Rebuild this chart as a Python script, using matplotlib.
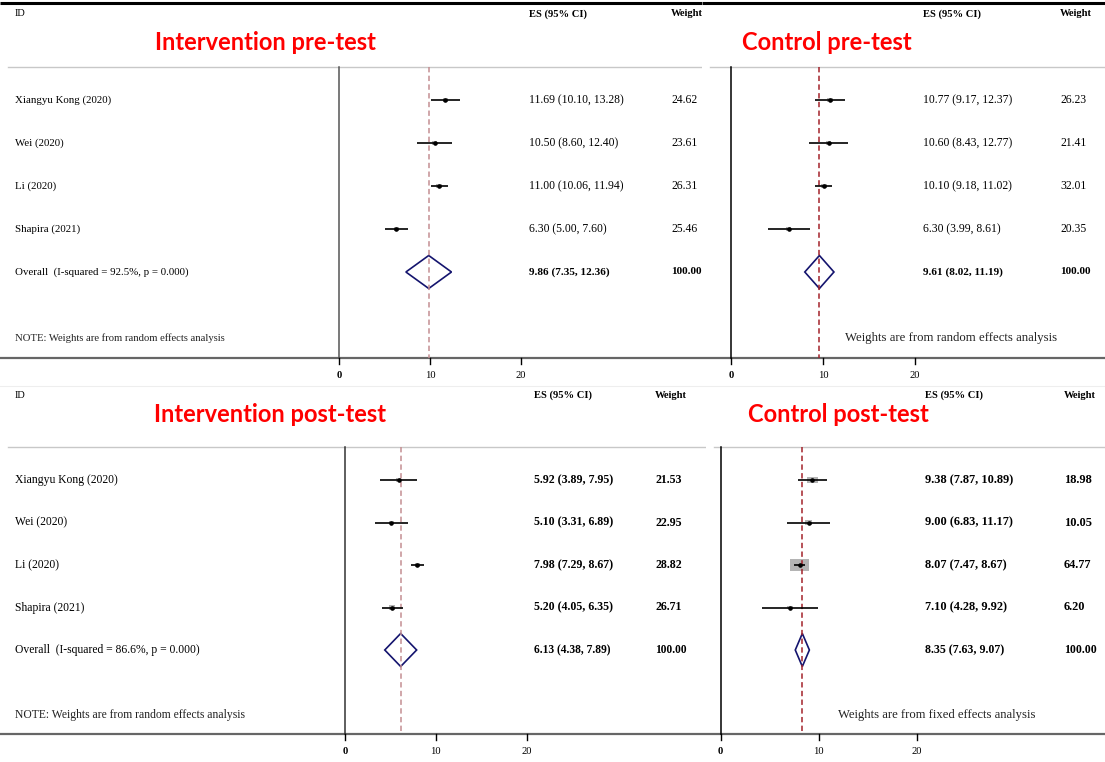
import matplotlib.pyplot as plt
from matplotlib.patches import Rectangle, Polygon
import numpy as np

W, H = 1105, 762

studies = ["Xiangyu Kong (2020)", "Wei (2020)", "Li (2020)", "Shapira (2021)"]

# Intervention pre-test
ip_es = [11.69, 10.50, 11.00, 6.30]
ip_lo = [10.10, 8.60, 10.06, 5.00]
ip_hi = [13.28, 12.40, 11.94, 7.60]
ip_w = [24.62, 23.61, 26.31, 25.46]
ip_overall = (9.86, 7.35, 12.36)
ip_i2 = 92.5

# Control pre-test
cp_es = [10.77, 10.60, 10.10, 6.30]
cp_lo = [9.17, 8.43, 9.18, 3.99]
cp_hi = [12.37, 12.77, 11.02, 8.61]
cp_w = [26.23, 21.41, 32.01, 20.35]
cp_overall = (9.61, 8.02, 11.19)

# Intervention post-test
iq_es = [5.92, 5.10, 7.98, 5.20]
iq_lo = [3.89, 3.31, 7.29, 4.05]
iq_hi = [7.95, 6.89, 8.67, 6.35]
iq_w = [21.53, 22.95, 28.82, 26.71]
iq_overall = (6.13, 4.38, 7.89)
iq_i2 = 86.6

# Control post-test
cq_es = [9.38, 9.00, 8.07, 7.10]
cq_lo = [7.87, 6.83, 7.47, 4.28]
cq_hi = [10.89, 11.17, 8.67, 9.92]
cq_w = [18.98, 10.05, 64.77, 6.20]
cq_overall = (8.35, 7.63, 9.07)

ticks = [0, 10, 20]

SERIF = "Liberation Serif"
TITLE_FONT = "Lato"

panels = [
    dict(title="Intervention pre-test", es=ip_es, lo=ip_lo, hi=ip_hi, w=ip_w, ov=ip_overall, i2=ip_i2,
         box=(0, 702, 0, 381), origin=339, scale=9.1, row0=100, gap=43, sep=67, axis=358, head=14,
         tc=(265, 43), es_x=529, w_x=671, ids=True, top=True,
         note="NOTE: Weights are from random effects analysis", note_xy=(15, 338), note_fs=7.7,
         dash="#c48e92", vcol="#555555", bold_rows=False, fs=7.8, vfs=8.4, box_k=(1.1, 0.8)),
    dict(title="Control pre-test", es=cp_es, lo=cp_lo, hi=cp_hi, w=cp_w, ov=cp_overall, i2=None,
         box=(702, W, 0, 381), origin=731, scale=9.2, row0=100, gap=43, sep=67, axis=358, head=14,
         tc=(827, 43), es_x=923, w_x=1060, ids=False, top=True,
         note="Weights are from random effects analysis", note_xy=(845, 338), note_fs=9.2,
         dash="#a3222a", vcol="#000000", bold_rows=False, fs=7.8, vfs=8.4, box_k=(1.1, 0.8)),
    dict(title="Intervention post-test", es=iq_es, lo=iq_lo, hi=iq_hi, w=iq_w, ov=iq_overall, i2=iq_i2,
         box=(0, 706, 384, H), origin=345, scale=9.08, row0=480, gap=42.5, sep=447, axis=734, head=395,
         tc=(270, 414), es_x=534, w_x=655, ids=True, top=False,
         note="NOTE: Weights are from random effects analysis", note_xy=(15, 715), note_fs=8.4,
         dash="#c48e92", vcol="#333333", bold_rows=True, fs=8.4, vfs=8.6, box_k=(1.1, 0.8)),
    dict(title="Control post-test", es=cq_es, lo=cq_lo, hi=cq_hi, w=cq_w, ov=cq_overall, i2=None,
         box=(706, W, 384, H), origin=720.5, scale=9.8, row0=480, gap=42.5, sep=447, axis=734, head=395,
         tc=(838, 414), es_x=925, w_x=1064, ids=False, top=False,
         note="Weights are from fixed effects analysis", note_xy=(838, 715), note_fs=9.05,
         dash="#a3222a", vcol="#000000", bold_rows=True, fs=8.4, vfs=8.9, box_k=(2.36, 1.37)),
]

fig = plt.figure(figsize=(W / 100, H / 100), dpi=100)
fig.patch.set_facecolor("white")

for p in panels:
    x0, x1, y0, y1 = p["box"]
    ax = fig.add_axes([x0 / W, 1 - y1 / H, (x1 - x0) / W, (y1 - y0) / H])
    xa, xb = (x0 - p["origin"]) / p["scale"], (x1 - p["origin"]) / p["scale"]
    ax.set_xlim(xa, xb)
    ax.set_ylim(y1, y0)
    ax.axis("off")

    def px(v, p=p):
        return (v - p["origin"]) / p["scale"]

    # frame lines
    if p["top"]:
        ax.plot([xa, xb], [3, 3], color="black", lw=2.2, solid_capstyle="butt")
    else:
        ax.plot([xa, xb], [y0 + 2, y0 + 2], color="#eeeeee", lw=0.8)
    ax.plot([px(x0 + 8), xb], [p["sep"], p["sep"]], color="#c8c8c8", lw=1.0)
    ax.plot([xa, xb], [p["axis"], p["axis"]], color="#666666", lw=1.6, solid_capstyle="butt")
    ax.plot([0, 0], [p["sep"], p["axis"]], color=p["vcol"], lw=1.1)

    # ticks
    for t in ticks:
        ax.plot([t, t], [p["axis"], p["axis"] + 6], color="black", lw=1.0)
        ax.text(t, p["axis"] + 17, str(t), ha="center", va="center", family=SERIF, fontsize=7.6,
                fontweight="bold" if t == 0 else "normal")

    # overall line
    ov_es, ov_lo, ov_hi = p["ov"]
    ax.plot([ov_es, ov_es], [p["sep"], p["axis"]], color=p["dash"], lw=1.1, ls=(0, (3.5, 2.2)))

    # headers
    if p["ids"]:
        ax.text(px(15), p["head"], "ID", ha="left", va="center", family=SERIF, fontsize=7.5)
    ax.text(px(p["es_x"]), p["head"], "ES (95% CI)", ha="left", va="center", family=SERIF,
            fontsize=7.6, fontweight="bold")
    ax.text(px(p["w_x"]), p["head"], "Weight", ha="left", va="center", family=SERIF,
            fontsize=7.6, fontweight="bold")
    ax.text(px(p["tc"][0]), p["tc"][1], p["title"], ha="center", va="center", family=TITLE_FONT,
            fontsize=17, fontweight="bold", color="#ff0000")

    vw = "bold" if p["bold_rows"] else "normal"
    kx, ky = p["box_k"]
    for i, name in enumerate(studies):
        y = p["row0"] + i * p["gap"]
        es, lo, hi, wt = p["es"][i], p["lo"][i], p["hi"][i], p["w"][i]
        bw = kx * np.sqrt(wt) / p["scale"]
        bh = ky * np.sqrt(wt)
        ax.add_patch(Rectangle((es - bw / 2, y - bh / 2), bw, bh, facecolor="#b4b4b4", edgecolor="none"))
        ax.plot([lo, hi], [y, y], color="black", lw=1.2, solid_capstyle="butt")
        ax.plot([es], [y], marker="o", ms=2.3, color="black")
        if p["ids"]:
            ax.text(px(15), y, name, ha="left", va="center", family=SERIF, fontsize=p["fs"])
        ax.text(px(p["es_x"]), y, f"{es:.2f} ({lo:.2f}, {hi:.2f})", ha="left", va="center",
                family=SERIF, fontsize=p["vfs"], fontweight=vw)
        ax.text(px(p["w_x"]), y, f"{wt:.2f}", ha="left", va="center",
                family=SERIF, fontsize=p["vfs"], fontweight=vw)

    # overall diamond
    y = p["row0"] + len(studies) * p["gap"]
    dh = 16.5
    ax.add_patch(Polygon([(ov_lo, y), (ov_es, y - dh), (ov_hi, y), (ov_es, y + dh)], closed=True,
                         facecolor="none", edgecolor="#14146e", lw=1.2))
    if p["ids"]:
        ax.text(px(15), y, f"Overall  (I-squared = {p['i2']:.1f}%, p = 0.000)", ha="left", va="center",
                family=SERIF, fontsize=p["fs"])
    ax.text(px(p["es_x"]), y, f"{ov_es:.2f} ({ov_lo:.2f}, {ov_hi:.2f})", ha="left", va="center",
            family=SERIF, fontsize=p["vfs"] - 0.3, fontweight="bold")
    ax.text(px(p["w_x"]), y, "100.00", ha="left", va="center", family=SERIF,
            fontsize=p["vfs"] - 0.3, fontweight="bold")

    ax.text(px(p["note_xy"][0]), p["note_xy"][1], p["note"], ha="left", va="center",
            family=SERIF, fontsize=p["note_fs"], color="#222222")

fig.savefig("out.png", dpi=100, facecolor="white")
